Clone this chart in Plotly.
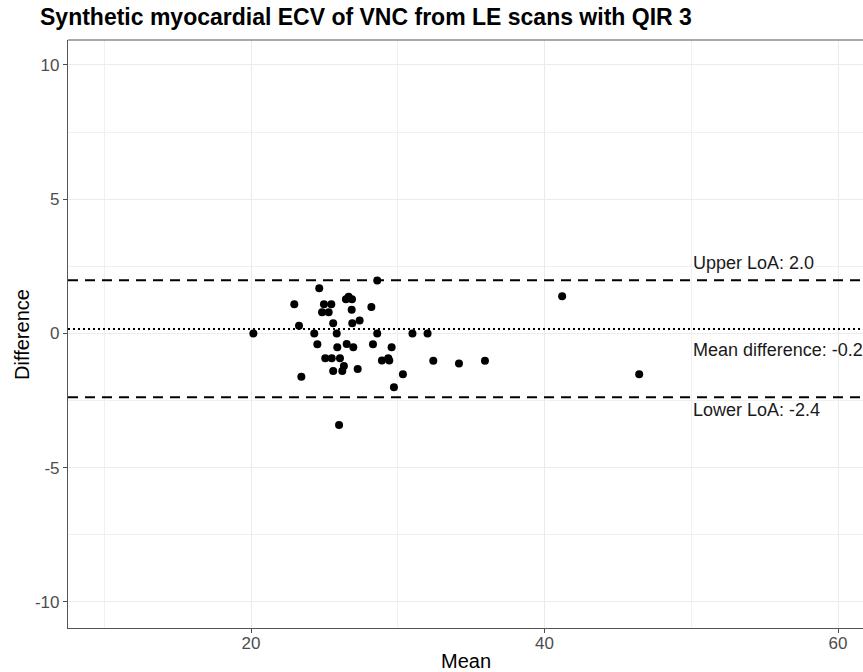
import plotly.graph_objects as go

# Bland-Altman data
mean_vals = [24.65, 22.95, 24.97, 25.47, 24.84, 25.29, 26.47, 26.65, 26.88, 26.86,
             28.20, 28.60, 23.27, 25.60, 26.90, 27.40, 24.31, 25.84, 28.60, 24.52,
             25.88, 26.52, 26.97, 28.31, 29.58, 25.06, 25.50, 26.06, 25.60, 26.22,
             26.33, 27.27, 28.92, 29.35, 29.42, 23.43, 29.74, 20.16, 26.00, 30.35,
             31.00, 32.03, 32.42, 34.17, 35.94, 41.20, 46.45]
diff_vals = [1.68, 1.09, 1.09, 1.09, 0.79, 0.79, 1.27, 1.37, 1.27, 0.88,
             0.99, 1.97, 0.29, 0.38, 0.38, 0.48, 0.00, 0.00, 0.00, -0.40,
             -0.51, -0.39, -0.51, -0.40, -0.51, -0.92, -0.92, -0.92, -1.40, -1.40,
             -1.21, -1.32, -1.01, -0.92, -1.01, -1.61, -2.00, 0.00, -3.41, -1.52,
             0.00, 0.00, -1.02, -1.12, -1.02, 1.39, -1.52]

upper_loa = 1.98
lower_loa = -2.38
mean_line = 0.17
label_x = 50
label_texts = ["Upper LoA: 2.0", "Mean difference: -0.2", "Lower LoA: -2.4"]
label_y = [2.62, -0.62, -2.85]

x_range = [7.53, 61.7]
y_range = [-10.97, 10.93]
x_ticks = [20, 40, 60]
x_ticktext = ["20", "40", "60"]
y_ticks = [-10, -5, 0, 5, 10]
y_ticktext = ["-10", "-5", "0", "5", "10"]

FONT = "Liberation Sans, Arial, sans-serif"

fig = go.Figure()
fig.add_trace(go.Scatter(x=mean_vals, y=diff_vals, mode="markers",
                         marker=dict(color="black", size=8, line=dict(width=0)),
                         showlegend=False, hoverinfo="skip"))

for yv, dash in [(upper_loa, "10px,7px"), (lower_loa, "10px,7px"), (mean_line, "2px,3px")]:
    fig.add_trace(go.Scatter(x=x_range, y=[yv, yv], mode="lines",
                             line=dict(color="black", width=2, dash=dash),
                             showlegend=False, hoverinfo="skip"))

for t, yv in zip(label_texts, label_y):
    fig.add_annotation(x=label_x, y=yv, text=t, showarrow=False, xanchor="left",
                       yanchor="middle", font=dict(size=18, color="#1a1a1a", family=FONT))

# axis titles
fig.add_annotation(xref="paper", yref="paper", x=0.5, y=-0.056, text="Mean", showarrow=False,
                   xanchor="center", yanchor="middle", font=dict(size=20, color="black", family=FONT))
fig.add_annotation(xref="paper", yref="paper", x=-0.058, y=0.5, text="Difference", showarrow=False,
                   textangle=-90, xanchor="center", yanchor="middle",
                   font=dict(size=20, color="black", family=FONT))

# top border
fig.add_shape(type="line", xref="paper", yref="paper", x0=0, x1=1, y0=1, y1=1,
              line=dict(color="#8c8c8c", width=1.5))

fig.update_layout(
    width=863, height=672,
    margin=dict(l=68, r=0, t=40, b=44),
    paper_bgcolor="white", plot_bgcolor="white",
    font=dict(family=FONT),
    title=dict(text="<b>Synthetic myocardial ECV of VNC from LE scans with QIR 3</b>",
               x=40 / 863, xanchor="left", xref="container",
               y=1 - 17 / 672, yanchor="middle", yref="container",
               font=dict(size=23, color="black", family=FONT)),
)
fig.update_xaxes(range=x_range, tickvals=x_ticks, ticktext=x_ticktext, ticks="outside", ticklen=4,
                 tickcolor="#4d4d4d", ticklabelstandoff=-5,
                 tickfont=dict(size=17, color="#4d4d4d"), showgrid=True, gridcolor="#ebebeb",
                 gridwidth=1, zeroline=False, showline=True, linecolor="#555555", linewidth=1.2,
                 minor=dict(tickvals=[10, 30, 50], showgrid=True, gridcolor="#f0f0f0", gridwidth=0.7),
                 automargin=False)
fig.update_yaxes(range=y_range, tickvals=y_ticks, ticktext=y_ticktext, ticks="outside", ticklen=4,
                 tickcolor="#4d4d4d",
                 tickfont=dict(size=17, color="#4d4d4d"), showgrid=True, gridcolor="#ebebeb",
                 gridwidth=1, zeroline=False, showline=True, linecolor="#555555", linewidth=1.2,
                 minor=dict(tickvals=[-7.5, -2.5, 2.5, 7.5], showgrid=True, gridcolor="#f0f0f0",
                            gridwidth=0.7),
                 automargin=False)

fig.write_html("out.html", config={"displayModeBar": False})

# remove default page margin so the figure fills the window exactly
with open("out.html", "r", encoding="utf-8") as f:
    html = f.read()
html = html.replace("<body>", '<body style="margin:0;padding:0;overflow:hidden">', 1)
with open("out.html", "w", encoding="utf-8") as f:
    f.write(html)
